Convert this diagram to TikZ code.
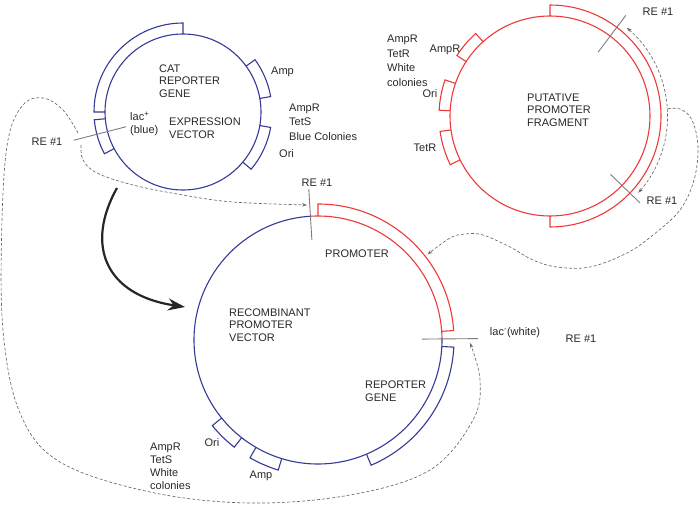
\documentclass[tikz,border=0pt]{standalone}
\usepackage{fontspec}
\setmainfont{Liberation Sans}
\usetikzlibrary{arrows.meta,positioning,calc}
\definecolor{vecblue}{RGB}{52,58,150}
\definecolor{fragred}{RGB}{236,58,58}
\definecolor{cutgray}{RGB}{125,125,125}
\definecolor{dashgray}{RGB}{105,105,105}
\definecolor{txt}{RGB}{40,40,40}
% block on a plasmid: from angle, to angle, inner r, outer r
\newcommand{\blk}[4]{\draw (#1:#3) -- (#1:#4) arc[start angle=#1, end angle=#2, radius=#4pt] -- (#2:#3);}

\tikzset{
  plasmid/.style={shape=circle, draw=#1, line width=1.1pt, inner sep=0pt},
  lbl/.style={font=\fontsize{11}{12.5}\selectfont, text=txt, inner sep=0pt, align=left},
  cut/.style={draw=cutgray, line width=0.9pt},
  smalltip/.tip={Stealth[length=5pt,width=3.5pt]},
  link/.style={draw=dashgray, line width=0.65pt, dash pattern=on 3pt off 2pt, -smalltip},
  bigarrow/.style={draw=black!85, line width=2.2pt, -{Stealth[length=17pt,width=12pt]}},
}

\begin{document}
\begin{tikzpicture}[x=1pt, y=1pt]
\useasboundingbox (0,0) rectangle (700,-505);

% expression vector
\node[plasmid=vecblue, minimum size=156pt] (ev) at (183,-112) {};
\begin{scope}[shift={(ev.center)}, vecblue, line width=1.1pt]
  \blk{90}{180}{78}{89}
  \blk{185}{208}{78}{89}
  \blk{36}{10}{78}{89}
  \blk{-10}{-40}{78}{89}
  \coordinate (evcut) at (194.5:113);
  \draw[cut] (194.5:59) -- (evcut);
\end{scope}
\node[lbl, anchor=west] (catg) at (159,-81) {CAT\\REPORTER\\GENE};
\node[lbl, anchor=west] (lacp) at (130,-124) {lac\textsuperscript{+}\\(blue)};
\node[lbl, anchor=west] (evname) at (169,-128) {EXPRESSION\\VECTOR};
\node[lbl, anchor=west] (evamp) at (271,-72) {Amp};
\node[lbl, anchor=west, font=\fontsize{11}{14.5}\selectfont] (evres) at (289,-122) {AmpR\\TetS\\Blue Colonies};
\node[lbl, anchor=west] (evori) at (279,-154) {Ori};
\node[lbl] (evre) at (47,-142) {RE \#1};

% putative promoter fragment
\node[plasmid=fragred, minimum size=200pt] (pf) at (550,-116) {};
\begin{scope}[shift={(pf.center)}, fragred, line width=1.1pt]
  \blk{90}{-90}{100}{111}
  \blk{132}{147}{100}{111}
  \blk{161}{177}{100}{111}
  \blk{188}{206}{100}{111}
  \coordinate (pfcutA) at (53:126);
  \coordinate (pfcutB) at (-44:125);
  \draw[cut] (53:80) -- (pfcutA);
  \draw[cut] (-44:84) -- (pfcutB);
  \draw[link, smalltip-smalltip] (49:117) arc[start angle=49, end angle=-41, radius=117pt];
  \coordinate (pfbr) at (3.5:118);
\end{scope}
\node[lbl] (pfre1) at (658,-12) {RE \#1};
\node[lbl] (pfre2) at (662,-201) {RE \#1};
\node[lbl, anchor=west] (pfname) at (527,-110) {PUTATIVE\\PROMOTER\\FRAGMENT};
\node[lbl] (pfamp) at (445,-50) {AmpR};
\node[lbl, anchor=west, font=\fontsize{11}{14.5}\selectfont] (pfres) at (387,-61) {AmpR\\TetR\\White\\colonies};
\node[lbl] (pfori) at (430,-94) {Ori};
\node[lbl] (pftet) at (425,-148) {TetR};

% recombinant promoter vector
\node[shape=circle, inner sep=0pt, minimum size=248pt] (rv) at (318,-340) {};
\begin{scope}[shift={(rv.center)}, vecblue, line width=1.1pt]
  \draw (93.5:124) arc[start angle=93.5, end angle=360.5, radius=124pt];
  \draw[fragred] (93.5:124) arc[start angle=93.5, end angle=0.5, radius=124pt];
  \begin{scope}[fragred]
    \blk{90}{4}{124}{136}
  \end{scope}
  \blk{-3}{-67}{124}{136}
  \blk{-107}{-120}{124}{136}
  \blk{-128}{-141}{124}{136}
  \coordinate (rvtop) at (93.5:151);
  \coordinate (rvside) at (0.5:160);
  \draw[cut] (93.5:100) -- (rvtop);
  \draw[cut] (0.5:104) -- (rvside);
  \coordinate (rvP) at (38:139);
  \coordinate (rvR) at (-1.1:152);
\end{scope}
\coordinate (rvT) at (307,-205);
\node[lbl] (rvre1) at (317,-183) {RE \#1};
\node[lbl] (rvprom) at (357,-254) {PROMOTER};
\node[lbl, anchor=west] (rvname) at (229,-325) {RECOMBINANT\\PROMOTER\\VECTOR};
\node[lbl] (rvlac) at (515,-333) {lac\textsuperscript{-}(white)};
\node[lbl] (rvre2) at (581,-339) {RE \#1};
\node[lbl, anchor=west] (rvgene) at (365,-391) {REPORTER\\GENE};
\node[lbl] (rvori) at (212,-443) {Ori};
\node[lbl] (rvamp) at (261,-476) {Amp};
\node[lbl, anchor=west, font=\fontsize{11}{13}\selectfont] (rvres) at (150,-466) {AmpR\\TetS\\White\\colonies};

% dashed links
\coordinate (lA) at (78,-133);
\coordinate (lB) at (81,-145);
\draw[link] plot[smooth, tension=0.6] coordinates {(lA) (63,-110) (43,-98) (23,-105) (8,-140) (2,-220) (3,-330) (20,-413) (60,-462) (150,-492) (250,-503) (350,-495) (430,-470) (473,-420) (480,-380) (rvR)};
\draw[link] plot[smooth, tension=0.6] coordinates {(lB) (83,-160) (97,-173) (133,-185) (183,-195) (233,-202) (rvT)};
\draw[link] plot[smooth, tension=0.6] coordinates {(pfbr) (680,-109) (692,-120) (698,-147) (694,-180) (680,-210) (653,-235) (627,-253) (590,-267) (557,-267) (533,-260) (510,-247) (483,-235) (465,-234) (450,-238) (rvP)};

% main arrow
\coordinate (evout) at (117,-188);
\coordinate (rvin) at (185,-307);
\draw[bigarrow] (evout) .. controls (85,-245) and (105,-295) .. (rvin);
\end{tikzpicture}
\end{document}
